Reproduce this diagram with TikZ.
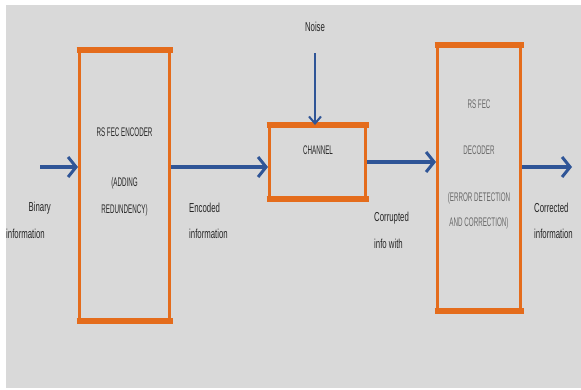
\documentclass[tikz,border=0pt]{standalone}
\usepackage{fontspec}
\newfontfamily\lblfont[FakeStretch=0.6]{Liberation Sans}
\newfontfamily\capfont[FakeStretch=0.5]{Liberation Sans}
\usetikzlibrary{arrows.meta}
\definecolor{boxorange}{RGB}{228,108,28}
\definecolor{flowblue}{RGB}{47,85,151}
\definecolor{bggray}{RGB}{217,217,217}
\definecolor{fadetext}{RGB}{105,105,105}
\tikzset{
  block/.style={draw=boxorange, line width=3pt, inner sep=0pt},
  blockedge/.style={draw=boxorange, line width=6pt, shorten <=-1.5pt, shorten >=-1.5pt},
  flow/.style={draw=flowblue, line width=4pt, -{Straight Barb[length=8pt,width=20pt,line width=3pt]}},
  thinflow/.style={draw=flowblue, line width=2pt, -{Straight Barb[length=7pt,width=12pt,line width=2pt]}},
  lbl/.style={font=\lblfont\fontsize{13}{15}\selectfont, text=black!85, inner sep=0pt},
  caplbl/.style={font=\capfont\fontsize{12.5}{15}\selectfont, text=black!85, inner sep=0pt},
}
\begin{document}
\begin{tikzpicture}[x=1pt,y=-1pt]
% Draw background
\useasboundingbox (0,0) rectangle (581,389);
\fill[bggray] (6,5) rectangle (581,388);

% Draw blocks
\node[block, minimum width=90pt, minimum height=268pt] (enc) at (124.5,185) {};
\node[block, minimum width=96pt, minimum height=71pt] (chan) at (317.5,162) {};
\node[block, minimum width=83pt, minimum height=263pt] (dec) at (479,177.5) {};
\foreach \b in {enc,chan,dec} {
   \draw[blockedge] (\b.north west) -- (\b.north east);
   \draw[blockedge] (\b.south west) -- (\b.south east);
}

% Draw connectors
\coordinate (in) at (40,167);
\coordinate (out) at (572,167);
\coordinate (noise-src) at (315,53);
\draw[flow] (in) -- (in -| enc.west);
\draw[flow] (enc.east |- in) -- (chan.west |- in);
\draw[flow] (chan.east) -- (chan.east -| dec.west);
\draw[flow] (dec.east |- out) -- (out);
\draw[thinflow] (noise-src) -- (noise-src |- chan.north);

% Label blocks
\node[lbl] (noise) at (315,27) {Noise};
\node[caplbl] (enc-1) at (124.5,132) {RS FEC ENCODER};
\node[caplbl] (enc-2) at (124.5,183) {(ADDING};
\node[caplbl] (enc-3) at (124.5,210) {REDUNDENCY)};
\node[caplbl] (chan-1) at (318,150) {CHANNEL};
\foreach \y/\txt [count=\i] in {104/{RS FEC}, 150/{DECODER}, 198/{(ERROR DETECTION}, 223/{AND CORRECTION)}} {
   \node[caplbl, text=fadetext] (dec-\i) at (479,\y) {\txt};
}

% Label signals
\node[lbl, anchor=east] (in-1) at (51,208) {Binary};
\node[lbl, anchor=east] (in-2) at (45,234) {information};
\node[lbl, anchor=west] (encd-1) at (189,208) {Encoded};
\node[lbl, anchor=west] (encd-2) at (189,234) {information};
\node[lbl, anchor=west] (corr-1) at (374,218) {Corrupted};
\node[lbl, anchor=west] (corr-2) at (374,244) {info with};
\node[lbl, anchor=west] (out-1) at (534,208) {Corrected};
\node[lbl, anchor=west] (out-2) at (534,234) {information};
\end{tikzpicture}
\end{document}
